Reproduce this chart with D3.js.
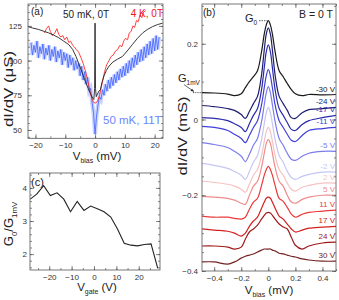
<!DOCTYPE html>
<html>
<head>
<meta charset="utf-8">
<script src="https://cdn.jsdelivr.net/npm/d3@7/dist/d3.min.js"></script>
<style>
body { margin: 0; background: #fff; }
text { font-family: "Liberation Sans", Arial, sans-serif; }
</style>
</head>
<body>
<script>
// ---------- (a) dI/dV (uS) vs Vbias (mV) ----------
var biasBlack = [-22.5,-21,-19,-17,-15.6,-14,-12.2,-10.5,-8.8,-7.5,-6.4,-5.5,-4.7,-3.9,-3.1,-2.3,-1.4,-0.8,-0.4,-0.15,0,0.15,0.4,0.8,1.3,1.8,2.3,3,3.8,4.7,6,7.5,9.2,10.8,12.5,14.2,16,17.6,19.3,21,22.7];
var gBlack = [124.5,123.5,122.5,121,120,118.5,116.5,114,111.5,108,103,98,93.5,89,84,80,75.5,73,72,80,127,80,74,76,78,79,84,89,93,96,99,101,103,107,111.5,116,120,122.5,124.5,126,127];

var biasRed = [-17,-16.3,-15.6,-15,-14.3,-13.5,-12.8,-12.2,-11.5,-10.8,-10.2,-9.5,-8.8,-8.2,-7.5,-7,-6.3,-5.5,-4.7,-4,-3.3,-2.6,-2,-1.4,-0.8,-0.3,0.3,0.9,1.5,2,2.6,3.2,3.9,4.7,5.4,6.1,6.9,7.6,8.3,9,9.6,10.2,10.9,11.5,12.1,12.7,13.3,13.9,14.5,15.1,15.7,16.3,17];
var gRed = [120,123,125,121,118,120,123,119,117,118,115,117,113,114,111,110,108,106,102,98,93,87,81,75,71,69.5,69.5,71,75,80,86,92,97,100,103,104,107,108,111,110,114,116,115,120,121,125,124,129,128,133,131,135,136];

// 11 T trace, sampled every 0.5 mV from -21.5 to 21.5
var biasBlue = d3.range(-21.5, 21.51, 0.5);
var gBlue = [113,104,111,106,114,102,110,105,112,101,
  109,104,111,100,108,103,110,99,107,102,
  108,97,106,100,105,95,104,97,102,93,
  100,94,98,89,96,86,92,83,88,78,
  80,70,62,
  47,
  60,68,74,72,
  79,75,83,78,86,80,88,82,90,84,
  92,86,94,88,96,89,98,91,100,93,
  102,95,104,97,106,99,108,100,110,102,
  112,104,114,105,116,107,118,108,117];

// ---------- (b) dI/dV (mS) vs Vbias (mV), offset curves ----------
var biasB = [-0.49,-0.4,-0.3,-0.25,-0.2,-0.17,-0.14,-0.11,-0.08,-0.05,-0.03,-0.015,0,0.015,0.03,0.05,0.08,0.11,0.14,0.17,0.2,0.25,0.3,0.4,0.5];
var curveM30 = [.071,.070,.067,.063,.068,.084,.100,.113,.129,.179,.226,.250,.261,.250,.226,.179,.129,.113,.095,.079,.068,.063,.066,.065,.066];
var curveM24 = [.037,.034,.029,.024,.013,.003,.021,.042,.061,.118,.184,.226,.242,.226,.184,.118,.061,.042,.024,.005,.003,.018,.026,.029,.032];
var curveM17 = [.005,.003,-.003,-.011,-.021,-.032,-.011,.011,.029,.079,.137,.179,.197,.179,.137,.079,.029,.011,-.008,-.026,-.029,-.013,-.003,.005,.011];
var curveM11 = [-.018,-.021,-.029,-.039,-.050,-.061,-.042,-.021,-.003,.039,.084,.116,.132,.116,.084,.039,-.003,-.021,-.039,-.055,-.058,-.042,-.029,-.024,-.021];
var curveM5 = [-.061,-.066,-.074,-.084,-.097,-.111,-.092,-.068,-.050,-.005,.039,.071,.087,.071,.039,-.005,-.050,-.068,-.089,-.105,-.108,-.097,-.089,-.084,-.084];
var curveM2 = [-.116,-.121,-.129,-.137,-.147,-.158,-.137,-.113,-.095,-.053,-.011,.018,.032,.018,-.011,-.053,-.095,-.113,-.137,-.153,-.158,-.150,-.145,-.139,-.139];
var curveP2 = [-.163,-.166,-.171,-.176,-.184,-.192,-.171,-.147,-.132,-.095,-.058,-.032,-.021,-.032,-.058,-.095,-.132,-.147,-.168,-.184,-.189,-.179,-.174,-.168,-.168];
var curveP5 = [-.203,-.205,-.208,-.213,-.221,-.224,-.200,-.176,-.163,-.126,-.089,-.063,-.053,-.063,-.089,-.126,-.163,-.176,-.200,-.218,-.221,-.211,-.205,-.200,-.200];
var curveP11 = [-.255,-.258,-.258,-.261,-.263,-.258,-.237,-.218,-.208,-.174,-.147,-.132,-.124,-.132,-.147,-.174,-.208,-.216,-.232,-.250,-.258,-.250,-.245,-.242,-.239];
var curveP17 = [-.289,-.292,-.295,-.300,-.308,-.300,-.282,-.268,-.258,-.234,-.218,-.208,-.205,-.208,-.218,-.234,-.255,-.263,-.276,-.289,-.297,-.292,-.287,-.284,-.282];
var curveP24 = [-.334,-.334,-.337,-.342,-.337,-.316,-.297,-.289,-.279,-.263,-.253,-.247,-.245,-.247,-.253,-.263,-.276,-.284,-.289,-.311,-.332,-.342,-.334,-.326,-.324];
var curveP30 = [-.376,-.376,-.382,-.376,-.366,-.361,-.358,-.355,-.350,-.345,-.342,-.342,-.342,-.342,-.345,-.347,-.353,-.355,-.358,-.361,-.363,-.368,-.371,-.374,-.374];
var gateLabels = ["-30 V","-24 V","-17 V","-11 V","-5 V","-2 V","2 V","5 V","11 V","17 V","24 V","30 V"];
var gateCurves = [curveM30,curveM24,curveM17,curveM11,curveM5,curveM2,curveP2,curveP5,curveP11,curveP17,curveP24,curveP30];
var gateColors = ["#1a1a1a","#1e1e72","#2a2aaa","#4040d8","#7c7cee","#c6c6f5","#f6c2c2","#f08c8c","#ea3a3a","#d42020","#a01a1a","#742222"];

// ---------- (c) G0/G1mV vs Vgate ----------
var vGate = [-28.5,-25.5,-22.5,-19.5,-16.5,-13.5,-10.5,-7.5,-4.5,-1.5,1.5,4.5,7.5,10.5,13.5,16.5,19.5,22.5,25.5,28.5];
var ratio = [3.66,3.82,4.07,3.77,3.85,3.66,3.28,3.59,3.32,3.45,3.37,3.28,3.12,2.76,2.33,2.27,2.25,2.29,2.31,1.57];

var svg = d3.select("body").append("svg").attr("width", 339).attr("height", 300);
var defs = svg.append("defs");

function addClip(id, x, y) {
  defs.append("clipPath").attr("id", id).append("rect")
    .attr("x", x.range()[0]).attr("y", y.range()[1])
    .attr("width", x.range()[1] - x.range()[0])
    .attr("height", y.range()[0] - y.range()[1]);
}

function styleAxis(sel) {
  sel.select(".domain").remove();
  sel.selectAll(".tick line").attr("stroke", "#555").attr("stroke-width", 0.7);
  sel.selectAll(".tick text").attr("fill", "#333").style("font-size", "8px");
}

// Mathematica-style frame: ticks inside on all four sides
function drawFrame(g, x, y, o) {
  var x0 = x.range()[0], x1 = x.range()[1], yb = y.range()[0], yt = y.range()[1];
  var none = function() { return ""; };
  [[o.xMinor, 2, none], [o.xMajor, 4, o.xFmt]].forEach(function(t) {
    g.append("g").attr("transform", `translate(0,${yb})`)
      .call(d3.axisBottom(x).tickValues(t[0]).tickSize(-t[1]).tickPadding(4).tickFormat(t[2]))
      .call(styleAxis);
    g.append("g").attr("transform", `translate(0,${yt})`)
      .call(d3.axisTop(x).tickValues(t[0]).tickSize(-t[1]).tickFormat(none))
      .call(styleAxis);
  });
  [[o.yMinor, 2, none], [o.yMajor, 4, o.yFmt]].forEach(function(t) {
    g.append("g").attr("transform", `translate(${x0},0)`)
      .call(d3.axisLeft(y).tickValues(t[0]).tickSize(-t[1]).tickPadding(o.yPad).tickFormat(t[2]))
      .call(styleAxis);
    g.append("g").attr("transform", `translate(${x1},0)`)
      .call(d3.axisRight(y).tickValues(t[0]).tickSize(-t[1]).tickFormat(none))
      .call(styleAxis);
  });
  g.append("rect").attr("x", x0).attr("y", yt).attr("width", x1 - x0).attr("height", yb - yt)
    .attr("fill", "none").attr("stroke", "#555").attr("stroke-width", 0.8);
}

// text with subscripts: parts = [[string, isSub], ...]
function richText(g, px, py, parts, size, rotate, len) {
  var t = g.append("text")
    .attr("transform", `translate(${px},${py})` + (rotate ? " rotate(-90)" : ""))
    .attr("text-anchor", "middle")
    .attr("fill", "#222")
    .style("font-size", size + "px");
  if (len) t.attr("textLength", len).attr("lengthAdjust", "spacingAndGlyphs");
  var down = false;
  parts.forEach(function(p) {
    var s = t.append("tspan").text(p[0]);
    if (p[1] && !down) { s.attr("dy", size * 0.3).style("font-size", (size * 0.6) + "px"); down = true; }
    else if (!p[1] && down) { s.attr("dy", -size * 0.3); down = false; }
  });
  return t;
}

var intFmt = d3.format("d");

// ================= panel (a) =================
var xA = d3.scaleLinear().domain([-22.5, 22.8]).range([28, 163]);
var yA = d3.scaleLinear().domain([44, 140.8]).range([138.3, 4]);
addClip("clipA", xA, yA);
var gA = svg.append("g");
var plotA = gA.append("g").attr("clip-path", "url(#clipA)");

function lineFor(x, y, xs) {
  return d3.line().x(function(d, i) { return x(xs[i]); }).y(function(d) { return y(d); });
}

// noisy 11 T trace: light halo under the raw zigzag
plotA.append("path").datum(gBlue).attr("d", lineFor(xA, yA, biasBlue))
  .attr("fill", "none").attr("stroke", "#9aaeff").attr("stroke-width", 4).attr("opacity", 0.55);
plotA.append("path").datum(gBlue).attr("d", lineFor(xA, yA, biasBlue))
  .attr("fill", "none").attr("stroke", "#3f5fff").attr("stroke-width", 0.8);
plotA.append("path").datum(gRed).attr("d", lineFor(xA, yA, biasRed))
  .attr("fill", "none").attr("stroke", "#ff2a2a").attr("stroke-width", 0.9);
plotA.append("path").datum(gBlack).attr("d", lineFor(xA, yA, biasBlack))
  .attr("fill", "none").attr("stroke", "#222").attr("stroke-width", 0.9);

drawFrame(gA, xA, yA, {
  xMajor: [-20, -10, 0, 10, 20], xMinor: d3.range(-20, 21, 5), xFmt: intFmt,
  yMajor: [50, 75, 100, 125], yMinor: d3.range(45, 141, 5), yFmt: intFmt, yPad: 6
});

gA.append("text").attr("x", 31).attr("y", 15).style("font-size", "10px").attr("fill", "#222").text("(a)");
gA.append("text").attr("x", 63).attr("y", 18).style("font-size", "10px").attr("fill", "#222").text("50 mK, 0T");
gA.append("text").attr("x", 163).attr("y", 17).attr("text-anchor", "end").style("font-size", "10px").attr("fill", "#ee1515").text("4 K, 0T");
gA.append("text").attr("x", 103).attr("y", 124).style("font-size", "11.5px").attr("fill", "#6a86ff").text("50 mK, 11T");

richText(gA, 13, 89, [["dI/dV (μS)", false]], 13, true, 76);
richText(gA, 97, 160, [["V", false], ["bias", true], [" (mV)", false]], 11.5, false);

// ================= panel (b) =================
var xB = d3.scaleLinear().domain([-0.49, 0.5]).range([202, 336]);
var yB = d3.scaleLinear().domain([-0.4, 0.305]).range([271, 4]);
addClip("clipB", xB, yB);
var gB = svg.append("g");
var plotB = gB.append("g").attr("clip-path", "url(#clipB)");
var lineB = d3.line()
  .x(function(d, i) { return xB(biasB[i]); })
  .y(function(d) { return yB(d); })
  .curve(d3.curveCatmullRom.alpha(0.5));

gateCurves.forEach(function(c, k) {
  plotB.append("path").datum(c).attr("d", lineB)
    .attr("fill", "none").attr("stroke", gateColors[k]).attr("stroke-width", 1.2);
  gB.append("text")
    .attr("x", xB.range()[1] - 1).attr("y", yB(c[c.length - 1]) - 3)
    .attr("text-anchor", "end").style("font-size", "8px")
    .attr("fill", gateColors[k]).text(gateLabels[k]);
});

drawFrame(gB, xB, yB, {
  xMajor: [-0.4, -0.2, 0, 0.2, 0.4], xMinor: d3.range(-4, 6, 1).map(function(d) { return d / 10; }),
  xFmt: function(d) { return d === 0 ? "0" : d3.format(".1f")(d); },
  yMajor: [-0.4, -0.2, 0, 0.2], yMinor: d3.range(-8, 7, 1).map(function(d) { return d / 20; }),
  yFmt: function(d) { return d === 0 ? "0" : d3.format(".1f")(d); }, yPad: 4
});

gB.append("text").attr("x", 203).attr("y", 16).style("font-size", "10px").attr("fill", "#222").text("(b)");
gB.append("text").attr("x", 333).attr("y", 18).attr("text-anchor", "end").style("font-size", "10.5px").attr("fill", "#222").text("B = 0 T");

// G0 marker at the top of the -30 V peak
var peakY = yB(d3.max(curveM30));
var g0 = gB.append("text").attr("x", 245).attr("y", peakY + 1).style("font-size", "11px").attr("fill", "#222");
g0.append("tspan").text("G");
g0.append("tspan").attr("dy", 3).style("font-size", "6.5px").text("0");
gB.append("line").attr("x1", 259).attr("x2", xB(0) - 1).attr("y1", peakY).attr("y2", peakY)
  .attr("stroke", "#222").attr("stroke-width", 0.7).attr("stroke-dasharray", "1.5,1");

// G1mV marker at the left end of the -30 V curve
var baseY = yB(curveM30[0]);
var x0B = xB.range()[0];
var g1 = gB.append("text").attr("x", 178).attr("y", baseY - 11).style("font-size", "11px").attr("fill", "#222");
g1.append("tspan").text("G");
g1.append("tspan").attr("dy", 3).style("font-size", "6.5px").text("1mV");
gB.append("line").attr("x1", x0B - 18).attr("y1", baseY - 8).attr("x2", x0B - 8).attr("y2", baseY - 1)
  .attr("stroke", "#222").attr("stroke-width", 0.7);
gB.append("path").attr("d", `M${x0B - 8},${baseY - 1} l-3.5,-0.6 l1.6,-2.2 z`).attr("fill", "#222");
gB.append("line").attr("x1", x0B - 9).attr("x2", x0B + 2).attr("y1", baseY).attr("y2", baseY)
  .attr("stroke", "#222").attr("stroke-width", 0.8).attr("stroke-dasharray", "1.2,1");

richText(gB, 187, 136, [["dI/dV (mS)", false]], 13, true, 79);
richText(gB, 269, 294, [["V", false], ["bias", true], [" (mV)", false]], 11.5, false);

// ================= panel (c) =================
var xC = d3.scaleLinear().domain([-28.6, 29.5]).range([30, 160]);
var yC = d3.scaleLinear().domain([1.52, 4.45]).range([270, 173]);
addClip("clipC", xC, yC);
var gC = svg.append("g");
gC.append("g").attr("clip-path", "url(#clipC)")
  .append("path").datum(ratio).attr("d", lineFor(xC, yC, vGate))
  .attr("fill", "none").attr("stroke", "#222").attr("stroke-width", 1.1);

drawFrame(gC, xC, yC, {
  xMajor: [-20, -10, 0, 10, 20], xMinor: d3.range(-25, 30, 5), xFmt: intFmt,
  yMajor: [2, 3, 4], yMinor: d3.range(8, 23, 1).map(function(d) { return d / 5; }), yFmt: intFmt, yPad: 3
});

gC.append("text").attr("x", 31).attr("y", 186).style("font-size", "11px").attr("fill", "#222").text("(c)");
richText(gC, 13, 224, [["G", false], ["0", true], ["/G", false], ["1mV", true]], 13, true);
richText(gC, 97, 291, [["V", false], ["gate", true], [" (V)", false]], 11.5, false);
</script>
</body>
</html>
